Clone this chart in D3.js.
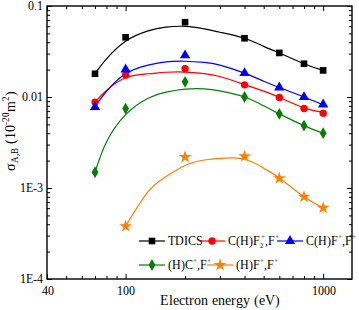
<!DOCTYPE html>
<html><head><meta charset="utf-8">
<script src="https://cdn.jsdelivr.net/npm/d3@7"></script>
<style>
@font-face{font-family:"ChartSerif";src:local("Liberation Serif"),local("LiberationSerif"),local("LiberationSerif-Regular"),local("Times New Roman"),local("DejaVu Serif");}
body{margin:0;background:#fff}
svg text, svg tspan{font-family:"ChartSerif","Liberation Serif","Times New Roman",serif !important;}
</style>
</head><body><svg id="c" width="359" height="310" font-family="Liberation Serif"></svg>
<script>
// measured points
const energies = [70, 100, 200, 400, 600, 800, 1000];
const tdics   = [0.018, 0.0453, 0.0664, 0.0442, 0.0305, 0.0232, 0.0196];
const chf2    = [0.0088, 0.0174, 0.0205, 0.0136, 0.0099, 0.00747, 0.00664];
const chf     = [0.00774, 0.0201, 0.0287, 0.0183, 0.0127, 0.00998, 0.00826];
const hc      = [0.00149, 0.00747, 0.0147, 0.0100, 0.00653, 0.00485, 0.0040];
const hfEnergies = [100, 200, 400, 600, 800, 1000];
const hf      = [0.00038, 0.00219, 0.00223, 0.00128, 0.0008, 0.000605];
// fitted curves
const fitE    = [70, 80, 100, 130, 160, 200, 250, 300, 400, 500, 600, 800, 1000];
const fitTdics= [0.018, 0.0262, 0.041, 0.0533, 0.0585, 0.0597, 0.0560, 0.0515, 0.0442, 0.036, 0.0305, 0.0232, 0.0196];
const fitChf2 = [0.0088, 0.0118, 0.0163, 0.0180, 0.0187, 0.0188, 0.0181, 0.0168, 0.0137, 0.0116, 0.0099, 0.0076, 0.0068];
const fitChf  = [0.0078, 0.0115, 0.0180, 0.0224, 0.0243, 0.0247, 0.0240, 0.0224, 0.0183, 0.0149, 0.0127, 0.0100, 0.0082];
const fitHc   = [0.00149, 0.0032, 0.0064, 0.0097, 0.0113, 0.0122, 0.0123, 0.0117, 0.0100, 0.0080, 0.00653, 0.00485, 0.0040];
const fitHfE  = [100, 130, 160, 200, 250, 300, 400, 500, 600, 800, 1000];
const fitHf   = [0.00038, 0.00091, 0.00133, 0.00177, 0.00203, 0.00212, 0.00207, 0.00165, 0.00129, 0.0008, 0.000605];
const xTicks = [40, 100, 1000];
const yTicks = [0.1, 0.01, 0.001, 0.0001];
const yTickLabels = ["0.1", "0.01", "1E-3", "1E-4"];

const SERIF = '"ChartSerif", "Liberation Serif", "Times New Roman", serif';
const svg = d3.select("#c");
const L = 47, R = 352, T = 6, B = 279;
const x = d3.scaleLog().domain([40, 1400]).range([L, R]);
const y = d3.scaleLog().domain([1e-4, 0.1]).range([B, T]);

const series = [
  {name:"TDICS", e:energies, v:tdics, fe:fitE, fv:fitTdics, color:"#000000", sym:d3.symbolSquare, size:44},
  {name:"chf2", e:energies, v:chf2, fe:fitE, fv:fitChf2, color:"#ff0000", sym:d3.symbolCircle, size:42},
  {name:"chf", e:energies, v:chf, fe:fitE, fv:fitChf, color:"#0000ff", sym:d3.symbolTriangle, size:46},
  {name:"hc", e:energies, v:hc, fe:fitE, fv:fitHc, color:"#008000", sym:d3.symbolDiamond, size:40},
  {name:"hf", e:hfEnergies, v:hf, fe:fitHfE, fv:fitHf, color:"#ff8000", sym:d3.symbolStar, size:50}
];

function minorX(){ const t=[]; for (let d=10; d<=1000; d*=10) for (let k=1;k<10;k++){const v=d*k; if(v>=40&&v<=1400&&!xTicks.includes(v)) t.push(v);} return t; }
function minorY(){ const t=[]; for (let d=1e-4; d<0.1; d*=10) for (let k=2;k<10;k++) t.push(d*k); return t; }
const g = svg.append("g");
g.append("g").attr("transform",`translate(0,${B})`).call(d3.axisBottom(x).tickValues(xTicks).tickFormat(d3.format("d")).tickSizeInner(-5).tickSizeOuter(0).tickPadding(7));
g.append("g").attr("transform",`translate(0,${B})`).call(d3.axisBottom(x).tickValues(minorX()).tickFormat("").tickSizeInner(-3).tickSizeOuter(0));
g.append("g").attr("transform",`translate(0,${T})`).call(d3.axisTop(x).tickValues(xTicks).tickFormat("").tickSizeInner(-5).tickSizeOuter(0));
g.append("g").attr("transform",`translate(0,${T})`).call(d3.axisTop(x).tickValues(minorX()).tickFormat("").tickSizeInner(-3).tickSizeOuter(0));
g.append("g").attr("transform",`translate(${L},0)`).call(d3.axisLeft(y).tickValues(yTicks).tickFormat((d,i)=>yTickLabels[i]).tickSizeInner(-5).tickSizeOuter(0).tickPadding(4));
g.append("g").attr("transform",`translate(${L},0)`).call(d3.axisLeft(y).tickValues(minorY()).tickFormat("").tickSizeInner(-3).tickSizeOuter(0));
g.append("g").attr("transform",`translate(${R},0)`).call(d3.axisRight(y).tickValues(yTicks).tickFormat("").tickSizeInner(-5).tickSizeOuter(0));
g.append("g").attr("transform",`translate(${R},0)`).call(d3.axisRight(y).tickValues(minorY()).tickFormat("").tickSizeInner(-3).tickSizeOuter(0));
g.selectAll(".domain").remove();
g.selectAll("g").attr("font-family", null).attr("font-size", null);
g.selectAll(".tick line").attr("stroke","#000").attr("stroke-width",1);
g.selectAll(".tick text").attr("fill","#000").attr("font-family","Liberation Serif").style("font-family",SERIF).style("font-size","12px");
svg.append("rect").attr("x",L).attr("y",T).attr("width",R-L).attr("height",B-T).attr("fill","none").attr("stroke","#000").attr("stroke-width",1.4);

// curves
const line = d3.line().x(d=>x(d[0])).y(d=>y(d[1])).curve(d3.curveNatural);
series.forEach(s=>{
  svg.append("path").datum(s.fe.map((e,i)=>[e,s.fv[i]])).attr("d",line).attr("fill","none").attr("stroke",s.color).attr("stroke-width",1.2);
});
series.forEach(s=>{
  svg.append("g").selectAll("path").data(s.e.map((e,i)=>[e,s.v[i]])).join("path")
    .attr("transform",d=>`translate(${x(d[0])},${y(d[1])})`)
    .attr("d",d3.symbol().type(s.sym).size(s.size)).attr("fill",s.color);
});

function txt(xp, yp, size, anchor){
  return svg.append("text").attr("x",xp).attr("y",yp).attr("text-anchor",anchor||"start")
    .attr("font-family","Liberation Serif").style("font-family",SERIF).style("font-size",size+"px").attr("fill","#000");
}
function span(t, s, dy, size, dx){
  const sp = t.append("tspan").text(s);
  if (dy) sp.attr("dy", dy);
  if (dx) sp.attr("dx", dx);
  if (size) sp.style("font-size", size+"px");
  return sp;
}

// legend
function legendItem(s, lx, ly, build){
  svg.append("line").attr("x1",lx).attr("x2",lx+26).attr("y1",ly).attr("y2",ly).attr("stroke",s.color).attr("stroke-width",1.2);
  svg.append("path").attr("transform",`translate(${lx+13},${ly})`).attr("d",d3.symbol().type(s.sym).size(s.size)).attr("fill",s.color);
  build(txt(lx+29, ly+4, 11.5));
}
legendItem(series[0],139,241,t=>{span(t,"TDICS");});
legendItem(series[1],199,241,t=>{span(t,"C(H)F"); span(t,"2",3,7); span(t,"+",-9,7,-3.5); span(t,",F",6); span(t,"+",-6,7);});
legendItem(series[2],277,241,t=>{span(t,"C(H)F"); span(t,"+",-6,7); span(t,",F",6); span(t,"+",-6,7);});
legendItem(series[3],139,265,t=>{span(t,"(H)C"); span(t,"+",-6,7); span(t,",F",6); span(t,"+",-6,7);});
legendItem(series[4],207,265,t=>{span(t,"(H)F"); span(t,"+",-6,7); span(t,",F",6); span(t,"+",-6,7);});

// axis titles
span(txt(220, 305, 14, "middle"), "Electron energy (eV)");
const yt = svg.append("text").attr("transform","translate(15,131) rotate(-90)").attr("text-anchor","middle")
  .attr("font-family","Liberation Serif").style("font-family",SERIF).style("font-size","14px").attr("fill","#000");
span(yt,"σ");
span(yt,"A,B",3,9);
span(yt," (10",-3);
span(yt,"-20",-6,9);
span(yt,"m",6);
span(yt,"2",-6,9);
span(yt,")",6);
</script></body></html>
